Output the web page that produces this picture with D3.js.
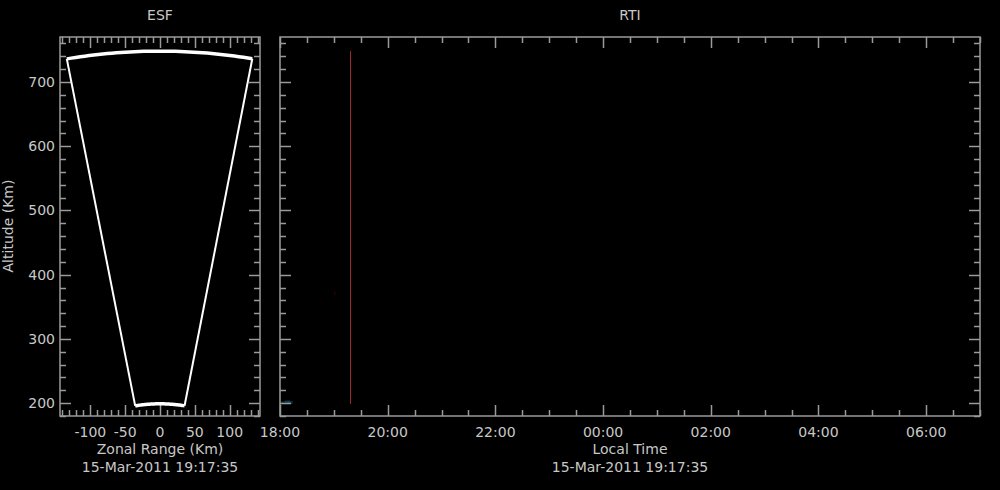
<!DOCTYPE html>
<html>
<head>
<meta charset="utf-8">
<script src="https://cdn.jsdelivr.net/npm/d3@7"></script>
<style>
  html, body { margin: 0; padding: 0; background: #000; }
  svg { display: block; }
  text { font-family: "DejaVu Sans", sans-serif; font-size: 14px; fill: #c8c8c8; }
</style>
</head>
<body>
<svg id="graph" width="1000" height="490"></svg>
<script>
// altitude axis (shared)
var altDomain = [180, 770];
var altMajor = [200, 300, 400, 500, 600, 700];

// ESF panel: zonal range and radar beam sector
var zonalDomain = [-143.5, 143.5];
var zonalLabels = [-100, -50, 0, 50, 100];
var beamAngles = [-10.3, 10.3];     // degrees from zenith
var beamRanges = [199, 748];        // km

// RTI panel
var timeStart = new Date(2011, 2, 15, 18, 0, 0);
var timeEnd = new Date(2011, 2, 16, 7, 0, 0);
var nowTime = new Date(2011, 2, 15, 19, 17, 35);
var stamp = "15-Mar-2011 19:17:35";

// sparse echoes (minutes after 18:00, altitude km, relative power)
var echoMinutes = [1, 4, 7, 10, 13];
var echoAlts = [201, 201, 202, 202, 201];
var echoPower = [0.15, 0.3, 0.6, 0.8, 0.5];
var faintMinutes = [60.5];
var faintAlts = [371];

var svg = d3.select("#graph");

var axisCol = "#9a9a9a";

var esf = { left: 60, right: 260, top: 37, bottom: 416 };
var rti = { left: 280, right: 980, top: 37, bottom: 416 };

var y = d3.scaleLinear().domain(altDomain).range([esf.bottom, esf.top]);
var xz = d3.scaleLinear().domain(zonalDomain).range([esf.left, esf.right]);
var xt = d3.scaleTime().domain([timeStart, timeEnd]).range([rti.left, rti.right]);

function frame(b) {
    svg.append("rect")
        .attr("x", b.left).attr("y", b.top)
        .attr("width", b.right - b.left).attr("height", b.bottom - b.top)
        .attr("fill", "none").attr("stroke", axisCol).attr("stroke-width", 1.5);
}

function yTicks(b, labels) {
    var minor = d3.range(altDomain[0], altDomain[1] + 1, 20);
    minor.forEach(function (v) {
        var major = v % 100 === 0;
        var len = major ? 11 : 6;
        var py = Math.round(y(v)) + 0.5;
        svg.append("line").attr("x1", b.left).attr("x2", b.left + len)
            .attr("y1", py).attr("y2", py).attr("stroke", axisCol).attr("stroke-width", 1.5);
        svg.append("line").attr("x1", b.right).attr("x2", b.right - len)
            .attr("y1", py).attr("y2", py).attr("stroke", axisCol).attr("stroke-width", 1.5);
    });
    if (labels) {
        altMajor.forEach(function (v) {
            svg.append("text").attr("x", b.left - 5).attr("y", y(v))
                .attr("dy", "0.35em").attr("text-anchor", "end").text(v);
        });
    }
}

function xTicks(b, scale, values, majorTest) {
    values.forEach(function (v) {
        var major = majorTest(v);
        var len = major ? 11 : 6;
        var px = Math.round(scale(v)) + 0.5;
        svg.append("line").attr("x1", px).attr("x2", px)
            .attr("y1", b.bottom).attr("y2", b.bottom - len).attr("stroke", axisCol).attr("stroke-width", 1.5);
        svg.append("line").attr("x1", px).attr("x2", px)
            .attr("y1", b.top).attr("y2", b.top + len).attr("stroke", axisCol).attr("stroke-width", 1.5);
    });
}

// ---------- ESF ----------
frame(esf);
yTicks(esf, true);
xTicks(esf, xz, d3.range(-140, 141, 10), function (v) { return v % 50 === 0; });

zonalLabels.forEach(function (v) {
    svg.append("text").attr("x", xz(v)).attr("y", 437)
        .attr("text-anchor", "middle").text(v);
});

// beam sector
function arcPts(r) {
    return d3.range(beamAngles[0], beamAngles[1] + 0.01, 0.5).map(function (a) {
        var t = a * Math.PI / 180;
        return [r * Math.sin(t), r * Math.cos(t)];
    });
}
var line = d3.line()
    .x(function (d) { return xz(d[0]); })
    .y(function (d) { return y(d[1]); });

var inner = arcPts(beamRanges[0]), outer = arcPts(beamRanges[1]);
svg.append("path").attr("d", line([inner[0], outer[0]]))
    .attr("fill", "none").attr("stroke", "#fff").attr("stroke-width", 2);
svg.append("path").attr("d", line([inner[inner.length - 1], outer[outer.length - 1]]))
    .attr("fill", "none").attr("stroke", "#fff").attr("stroke-width", 2);
svg.append("path").attr("d", line(outer))
    .attr("fill", "none").attr("stroke", "#fff").attr("stroke-width", 3.5);
svg.append("path").attr("d", line(inner))
    .attr("fill", "none").attr("stroke", "#fff").attr("stroke-width", 3.5);

svg.append("text").attr("x", 160).attr("y", 20).attr("text-anchor", "middle").text("ESF");
svg.append("text").attr("x", 160).attr("y", 454).attr("text-anchor", "middle").text("Zonal Range (Km)");
svg.append("text").attr("x", 160).attr("y", 472).attr("text-anchor", "middle").text(stamp);
svg.append("text").attr("transform", "translate(13," + 226 + ") rotate(-90)")
    .attr("text-anchor", "middle").text("Altitude (Km)");

// ---------- RTI ----------
var echoColor = d3.scaleLinear().domain([0, 0.5, 1])
    .range(["#0a1a0a", "#0f3a2a", "#1a4a9a"]);
echoMinutes.forEach(function (m, i) {
    var t0 = d3.timeMinute.offset(timeStart, m - 1.5);
    var t1 = d3.timeMinute.offset(timeStart, m + 1.5);
    svg.append("rect")
        .attr("x", xt(t0)).attr("width", xt(t1) - xt(t0))
        .attr("y", y(echoAlts[i] + 2)).attr("height", y(echoAlts[i] - 2) - y(echoAlts[i] + 2))
        .attr("fill", echoColor(echoPower[i]));
});
faintMinutes.forEach(function (m, i) {
    var t = d3.timeSecond.offset(timeStart, m * 60);
    svg.append("rect").attr("x", xt(t)).attr("y", y(faintAlts[i] + 3))
        .attr("width", 1).attr("height", 4).attr("fill", "#3a0000");
});

// current time marker
svg.append("line")
    .attr("x1", Math.round(xt(nowTime)) + 0.5).attr("x2", Math.round(xt(nowTime)) + 0.5)
    .attr("y1", y(beamRanges[1])).attr("y2", y(beamRanges[0]))
    .attr("stroke", "#a0282e").attr("stroke-width", 1);

frame(rti);
yTicks(rti, false);
xTicks(rti, xt, d3.timeMinute.every(30).range(timeStart, d3.timeMinute.offset(timeEnd, 1)),
    function (d) { return d.getMinutes() === 0 && d.getHours() % 2 === 0; });

var fmt = d3.timeFormat("%H:%M");
d3.timeHour.every(2).range(timeStart, timeEnd).forEach(function (d) {
    svg.append("text").attr("x", xt(d)).attr("y", 437)
        .attr("text-anchor", "middle").text(fmt(d));
});

svg.append("text").attr("x", 630).attr("y", 20).attr("text-anchor", "middle").text("RTI");
svg.append("text").attr("x", 630).attr("y", 454).attr("text-anchor", "middle").text("Local Time");
svg.append("text").attr("x", 630).attr("y", 472).attr("text-anchor", "middle").text(stamp);
</script>
</body>
</html>
